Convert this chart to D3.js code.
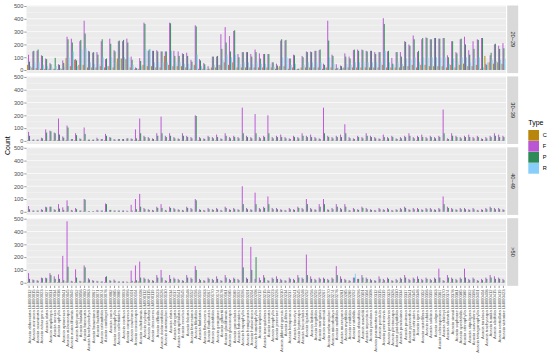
<!DOCTYPE html>
<html><head><meta charset="utf-8">
<script src="https://cdn.jsdelivr.net/npm/d3@7"></script>
<style>body{margin:0;background:#fff}svg{display:block}</style>
</head><body>
<svg id="c" width="550" height="360"></svg>
<script>
const types = ["C","F","P","R"];
const typeColors = ["#B8860B","#BA55D3","#2E8B57","#87CEFA"];
const ages = ["20~29","30~39","40~49",">50"];
const yTicks = [0,100,200,300,400,500];

const species = ["Acacia abbreviata LM000012","Acacia acinacea LM000015","Acacia acuminata LM000019","Acacia adsurgens LM000023","Acacia alata LM000027","Acacia ampliceps LM000031","Acacia aneura LM000034","Acacia aphylla LM000038","Acacia aptaneura LM000041","Acacia aulacocarpa LM000045","Acacia auriculiformis LM000049","Acacia baileyana LM000052","Acacia bidwillii LM000056","Acacia binervata LM000060","Acacia brachystachya LM000063","Acacia browniana LM000067","Acacia burkittii LM000071","Acacia calamifolia LM000074","Acacia cambagei LM000078","Acacia cana LM000082","Acacia cardiophylla LM000085","Acacia colletioides LM000089","Acacia confusa LM000093","Acacia conspersa LM000096","Acacia cowleana LM000101","Acacia crassicarpa LM000104","Acacia cultriformis LM000108","Acacia cyclops LM000112","Acacia dealbata LM000115","Acacia decurrens LM000119","Acacia difficilis LM000123","Acacia dodonaeifolia LM000126","Acacia doratoxylon LM000130","Acacia elata LM000134","Acacia elongata LM000137","Acacia estrophiolata LM000141","Acacia excelsa LM000145","Acacia falcata LM000148","Acacia farnesiana LM000152","Acacia filicifolia LM000156","Acacia fimbriata LM000159","Acacia flavescens LM000163","Acacia floribunda LM000167","Acacia genistifolia LM000170","Acacia georginae LM000174","Acacia gilbertii LM000178","Acacia gladiiformis LM000181","Acacia glaucocarpa LM000185","Acacia gonoclada LM000189","Acacia hakeoides LM000192","Acacia harpophylla LM000196","Acacia hemignosta LM000201","Acacia holosericea LM000204","Acacia homalophylla LM000208","Acacia implexa LM000212","Acacia inaequilatera LM000215","Acacia irrorata LM000219","Acacia iteaphylla LM000223","Acacia jennerae LM000226","Acacia jibberdingensis LM000230","Acacia julifera LM000234","Acacia kempeana LM000237","Acacia leiocalyx LM000241","Acacia leptocarpa LM000245","Acacia leucoclada LM000248","Acacia ligulata LM000252","Acacia linifolia LM000256","Acacia longifolia LM000259","Acacia mangium LM000263","Acacia mearnsii LM000267","Acacia melanoxylon LM000270","Acacia microbotrya LM000274","Acacia mollifolia LM000278","Acacia murrayana LM000281","Acacia myrtifolia LM000285","Acacia neriifolia LM000289","Acacia notabilis LM000292","Acacia obtusifolia LM000296","Acacia oswaldii LM000301","Acacia oxycedrus LM000304","Acacia paradoxa LM000308","Acacia parramattensis LM000312","Acacia pendula LM000315","Acacia penninervis LM000319","Acacia pentadenia LM000323","Acacia plectocarpa LM000326","Acacia podalyriifolia LM000330","Acacia pravissima LM000334","Acacia pruinosa LM000337","Acacia pycnantha LM000341","Acacia retinodes LM000345","Acacia rigens LM000348","Acacia rostellifera LM000352","Acacia rubida LM000356","Acacia salicina LM000359","Acacia saligna LM000363","Acacia sclerosperma LM000367","Acacia shirleyi LM000370","Acacia silvestris LM000374","Acacia simsii LM000378","Acacia sophorae LM000381","Acacia spectabilis LM000385","Acacia stenophylla LM000389","Acacia stipuligera LM000392","Acacia suaveolens LM000396","Acacia tetragonophylla LM000401","Acacia torulosa LM000404","Acacia trachycarpa LM000408","Acacia tumida LM000412","Acacia ulicifolia LM000415","Acacia verticillata LM000419","Acacia victoriae LM000423"];

const c20=[40,20,15,10,10,10,5,5,10,95,30,80,40,40,20,20,20,30,20,30,20,90,90,85,20,5,10,40,30,30,20,20,110,40,30,30,30,20,10,40,10,10,5,20,20,40,60,40,60,20,20,20,20,20,20,20,20,20,10,30,30,10,20,5,20,20,20,20,20,10,20,20,10,5,20,20,20,20,20,20,20,20,20,40,20,20,20,20,30,30,40,20,40,40,30,30,30,30,20,40,20,40,50,30,30,40,10,110,60,50,60,50];
const f20=[119,145,150,115,90,55,10,45,75,260,245,85,225,385,150,135,140,225,85,245,155,225,225,245,105,20,93,370,150,150,155,145,145,370,150,145,130,135,80,350,85,55,30,105,105,280,335,265,305,125,140,140,125,160,130,125,125,60,50,230,230,90,120,10,110,145,145,150,155,50,385,120,45,35,130,105,155,160,160,150,150,140,140,405,145,95,140,140,225,200,270,140,240,255,240,250,245,250,115,225,140,240,260,155,225,240,250,50,115,200,190,210];
const p20=[65,150,160,110,85,45,95,40,55,240,215,75,235,285,145,140,120,240,90,205,145,230,235,215,80,15,70,360,160,150,145,145,145,365,110,110,125,110,65,340,75,45,10,105,110,165,215,145,310,100,140,140,105,140,90,125,125,60,35,240,235,90,115,10,100,140,140,150,160,40,230,110,15,30,105,90,160,150,155,145,150,125,140,360,150,50,140,105,220,190,240,150,250,250,240,250,245,250,100,225,130,245,200,120,165,235,250,40,135,205,165,170];
const r20=[30,60,60,40,30,20,30,15,25,100,145,30,160,170,60,50,50,100,30,100,60,90,100,100,40,10,30,160,165,60,60,60,60,150,60,60,50,50,30,120,30,20,10,40,40,80,120,100,120,50,60,60,50,60,50,50,50,25,20,100,100,40,50,5,40,60,60,60,60,20,100,50,20,15,50,40,60,60,60,60,60,60,60,150,60,40,60,50,90,80,100,60,100,100,100,100,100,100,50,90,60,100,100,60,90,100,20,60,80,70,80,90];

const c30=[5,2,2,3,5,5,5,5,3,8,2,5,2,5,2,2,3,2,5,3,2,2,2,3,3,5,8,3,3,3,5,3,3,5,3,3,3,5,3,3,5,3,3,3,5,3,3,3,5,3,3,3,5,3,3,5,3,3,3,5,3,3,3,5,3,3,3,5,3,3,3,5,3,3,3,5,3,3,3,5,3,3,3,5,3,3,3,5,3,3,3,5,3,3,3,5,3,3,3,5,3,3,3,5,3,3,3,5,3,3,3,5];
const f30=[70,10,10,25,90,80,65,175,35,120,15,60,20,105,10,10,25,15,55,30,15,15,15,20,20,90,175,40,30,20,60,190,40,60,30,20,60,40,30,200,30,20,40,30,50,20,60,30,40,30,260,40,30,210,30,40,200,30,40,50,30,20,40,30,60,40,50,30,20,260,40,30,40,50,130,30,20,40,30,60,40,30,20,50,30,40,20,30,40,60,30,40,50,30,40,30,40,245,20,60,40,30,40,50,30,40,20,30,40,60,50,40];
const p30=[40,10,10,20,65,75,60,50,25,105,15,45,15,55,10,10,15,15,40,25,10,15,15,20,15,20,60,30,20,15,40,60,30,40,20,15,40,30,20,195,20,15,30,20,30,15,40,20,30,20,60,30,20,60,20,30,60,20,30,30,20,15,30,20,40,30,30,20,15,60,30,20,30,30,60,20,15,30,20,40,30,20,15,30,20,30,15,20,30,40,20,30,30,20,30,20,30,60,15,40,30,20,30,30,20,30,15,20,30,40,30,30];
const r30=[5,3,3,3,5,5,5,8,3,8,3,5,3,5,3,3,3,3,5,3,3,3,3,3,3,5,8,3,3,3,5,3,3,5,3,3,3,5,3,8,3,3,3,3,5,3,3,3,5,3,3,3,5,3,3,5,3,3,3,5,3,3,3,5,3,3,3,5,3,3,3,5,3,3,3,5,3,3,3,5,3,3,3,5,3,3,3,5,3,3,3,5,3,3,3,5,3,3,3,5,3,3,3,5,3,3,3,5,3,3,3,5];

const c40=[3,1,1,2,3,3,2,3,2,5,1,3,1,5,1,1,2,1,3,2,1,1,1,1,2,3,5,2,2,2,3,2,2,3,2,2,2,3,2,2,3,2,2,2,3,2,2,2,3,2,2,2,3,2,2,3,2,2,2,3,2,2,2,3,2,2,2,3,2,2,2,3,2,2,2,3,2,2,2,3,2,2,2,3,2,2,2,3,2,2,2,3,2,2,2,3,2,2,2,3,2,2,2,3,2,2,2,3,2,2,2,3];
const f40=[45,10,10,20,40,40,20,60,35,90,15,30,10,100,5,5,15,10,65,15,10,10,10,10,55,100,140,30,20,15,40,60,15,40,30,20,15,40,30,100,20,15,30,20,30,15,40,20,30,20,200,30,20,150,30,40,120,30,30,20,15,30,20,40,30,100,30,20,60,100,20,30,60,30,60,15,30,20,40,30,20,15,30,20,30,15,20,30,40,20,30,30,20,30,30,20,30,120,40,30,20,30,30,20,30,15,20,30,40,30,30,20];
const p40=[20,10,10,15,35,40,15,25,15,45,10,20,10,95,5,5,10,10,60,15,10,10,10,5,10,20,40,20,15,10,30,30,10,30,20,15,10,30,20,90,15,10,20,15,20,10,30,15,20,15,60,20,15,60,20,30,60,20,20,15,10,20,15,30,20,60,20,15,40,60,15,20,40,20,40,10,20,15,30,20,15,10,20,15,20,10,15,20,30,15,20,20,15,20,20,15,20,60,30,20,15,20,20,15,20,10,15,20,30,20,20,15];
const r40=[3,1,1,2,3,3,2,3,2,5,1,3,1,5,1,1,2,1,3,2,1,1,1,1,2,3,5,2,2,2,3,2,2,3,2,2,2,3,2,2,3,2,2,2,3,2,2,2,3,2,2,2,3,2,2,3,2,2,2,3,2,2,2,3,2,2,2,3,2,2,2,3,2,2,2,3,2,2,2,3,2,2,2,3,2,2,2,3,2,2,2,3,2,2,2,3,2,2,2,3,2,2,2,3,2,2,2,3,2,2,2,3];

const c50=[5,3,2,3,3,5,3,5,5,10,2,5,2,8,3,2,2,2,5,2,3,2,2,2,5,8,10,3,3,3,5,3,3,5,3,3,3,5,3,3,5,3,3,3,5,3,3,3,5,3,3,3,5,3,3,5,3,3,3,5,3,3,3,5,3,3,3,5,3,3,3,5,3,3,3,5,3,3,3,5,3,3,3,5,3,3,3,5,3,3,3,5,3,3,3,5,3,3,3,5,3,3,3,5,3,3,3,5,3,3,3,5];
const f50=[75,25,20,40,40,75,50,65,210,480,15,105,15,135,35,20,15,10,45,20,25,10,10,10,95,135,165,40,30,20,60,100,20,60,40,30,20,60,40,130,30,20,40,30,50,20,60,30,40,30,350,40,280,30,40,60,20,40,50,30,20,40,30,60,40,220,50,30,40,40,30,40,130,50,30,20,40,30,60,40,30,20,50,30,40,20,30,40,60,30,40,50,30,40,30,40,110,20,60,40,30,40,110,30,40,20,30,40,60,50,40,30];
const p50=[30,20,15,35,35,60,30,30,20,125,10,40,10,120,25,15,10,10,50,15,15,10,10,5,15,20,40,30,20,15,40,40,15,30,30,20,15,40,30,100,20,15,30,20,30,15,40,20,30,20,120,30,100,200,20,40,15,30,30,20,15,30,20,40,30,60,30,20,30,30,20,30,60,30,20,15,40,30,40,30,20,15,30,20,30,15,20,30,40,20,30,30,20,30,20,30,40,15,40,30,20,30,40,20,30,15,20,30,40,30,30,20];
const r50=[5,3,2,3,3,5,3,5,5,10,2,5,2,8,3,2,2,2,5,2,3,2,2,2,5,8,10,3,3,3,5,3,3,5,3,3,3,5,3,3,5,3,3,3,5,3,3,3,5,3,3,3,5,3,3,5,3,3,3,5,3,3,3,5,3,3,3,5,3,3,3,5,3,3,3,5,70,3,3,5,3,3,3,5,3,3,3,5,3,3,3,5,3,3,3,5,3,3,3,5,3,3,3,5,3,3,3,5,3,3,3,5];

const panelData = [[c20,f20,p20,r20],[c30,f30,p30,r30],[c40,f40,p40,r40],[c50,f50,p50,r50]];

const svg = d3.select("#c");
const L = 26.5, R = 506, T = 5.5, H = 67.6, G = 3.3;
const x = d3.scaleBand().domain(species).range([L, R]).paddingInner(0.1).paddingOuter(0.15);
const xs = d3.scaleBand().domain(types).range([0, x.bandwidth()]);
const color = d3.scaleOrdinal().domain(types).range(typeColors);

ages.forEach((age, pi) => {
  const top = T + pi * (H + G);
  const y = d3.scaleLinear().domain([-24, 504]).range([top + H, top]);
  const g = svg.append("g");
  g.append("rect").attr("x", L).attr("y", top).attr("width", R - L).attr("height", H).attr("fill", "#EBEBEB");
  [50,150,250,350,450].forEach(v => g.append("line").attr("x1", L).attr("x2", R).attr("y1", y(v)).attr("y2", y(v)).attr("stroke", "#fff").attr("stroke-width", 0.35));
  yTicks.forEach(v => g.append("line").attr("x1", L).attr("x2", R).attr("y1", y(v)).attr("y2", y(v)).attr("stroke", "#fff").attr("stroke-width", 0.7));
  const rows = [];
  species.forEach((s, i) => types.forEach((t, ti) => rows.push({s, t, v: panelData[pi][ti][i] || 0})));
  g.selectAll("rect.bar").data(rows).join("rect").attr("class", "bar")
    .attr("x", d => x(d.s) + xs(d.t)).attr("width", xs.bandwidth())
    .attr("y", d => y(d.v)).attr("height", d => y(0) - y(d.v)).attr("fill", d => color(d.t));
  const ax = g.append("g").attr("transform", `translate(${L},0)`).call(d3.axisLeft(y).tickValues(yTicks).tickSize(2.2).tickPadding(1));
  ax.select(".domain").remove();
  ax.selectAll("line").attr("stroke", "#333").attr("stroke-width", 0.5);
  ax.selectAll("text").attr("fill", "#4D4D4D").style("font", "5.6px 'Liberation Sans', Arial, sans-serif");
  g.append("rect").attr("x", R + 1.2).attr("y", top).attr("width", 11).attr("height", H).attr("fill", "#D9D9D9");
  g.append("text").attr("transform", `translate(${R + 6.7},${top + H / 2}) rotate(90)`).attr("text-anchor", "middle").attr("dy", "0.35em")
    .attr("fill", "#1A1A1A").style("font", "5.6px 'Liberation Sans', Arial, sans-serif").text(age);
});

const bottom = T + 4 * H + 3 * G;
const xa = svg.append("g").attr("transform", `translate(0,${bottom})`).call(d3.axisBottom(x).tickSize(2.2).tickPadding(1.2));
xa.select(".domain").remove();
xa.selectAll("line").attr("stroke", "#333").attr("stroke-width", 0.5);
xa.selectAll("text").attr("fill", "#4D4D4D").style("font", "4.2px 'Liberation Sans', Arial, sans-serif")
  .attr("transform", "rotate(-90)").attr("text-anchor", "end").attr("x", -3.5).attr("y", 0).attr("dy", "0.35em");

svg.append("text").attr("transform", `translate(7.5,${T + (4 * H + 3 * G) / 2}) rotate(-90)`).attr("text-anchor", "middle").attr("dy", "0.35em")
  .style("font", "7px 'Liberation Sans', Arial, sans-serif").attr("fill", "#000").text("Count");

const lg = svg.append("g").attr("transform", "translate(528.3,118)");
lg.append("text").attr("x", 0).attr("y", 7).style("font", "7px 'Liberation Sans', Arial, sans-serif").text("Type");
types.forEach((t, i) => {
  lg.append("rect").attr("x", 0).attr("y", 12 + i * 11).attr("width", 10.7).attr("height", 10.7).attr("fill", color(t));
  lg.append("text").attr("x", 14.5).attr("y", 12 + i * 11 + 5.4).attr("dy", "0.35em").style("font", "5.6px 'Liberation Sans', Arial, sans-serif").attr("fill", "#000").text(t);
});
</script>
</body></html>
